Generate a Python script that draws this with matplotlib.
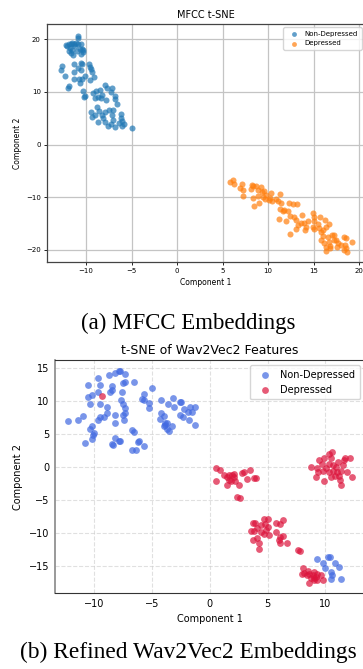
import numpy as np
import matplotlib
matplotlib.use('Agg')
from matplotlib import pyplot as plt

### MFCC t-SNE points ###
mfcc_nondep_x = [-10.9, -10.9, -12.1, -11.9, -11.7, -11.5, -11.3, -11.1, -10.9, -10.5, -11.8, -11.5,
                 -11.9, -11.6, -11.4, -11.0, -10.7, -10.4, -10.3, -10.5, -10.3, -11.2, -12.2,
                 -12.6, -12.7, -12.3, -11.9, -12.0, -11.3, -11.3, -11.3, -10.8, -10.7, -10.4, -10.9,
                 -10.5, -10.5, -10.4, -9.7, -9.6, -9.4, -9.3, -9.1, -9.6, -10.1, -10.3, -10.1, -10.2,
                 -9.2, -8.9, -8.5, -9.0, -8.7, -8.4, -8.2, -7.8, -7.9, -7.7, -7.2, -7.3, -6.8, -6.8,
                 -6.6, -8.8, -8.6, -9.0, -9.5, -9.3, -8.7, -8.2, -8.1, -7.9, -7.6, -7.3, -7.0, -7.1,
                 -7.9, -7.5, -7.0, -6.2, -6.2, -6.0, -5.8, -6.0, -6.8, -4.9, -6.4]
mfcc_nondep_y = [20.6, 20.2, 18.6, 19.0, 19.1, 19.2, 19.0, 19.2, 19.0, 19.1, 18.3, 18.0,
                 17.7, 17.3, 17.0, 17.8, 18.1, 18.2, 17.6, 17.2, 17.9, 18.6, 18.9,
                 14.8, 14.1, 13.0, 11.1, 10.7, 15.2, 13.8, 12.5, 12.4, 11.7, 12.5, 14.5,
                 14.2, 15.5, 15.3, 15.3, 14.7, 14.3, 13.7, 12.8, 12.3, 13.0, 10.2, 9.2, 9.0,
                 9.7, 10.2, 10.4, 8.8, 9.1, 8.8, 9.4, 8.5, 11.3, 10.7, 10.7, 9.9, 9.2, 8.6,
                 7.7, 7.2, 6.4, 5.6, 6.1, 5.2, 4.2, 5.6, 5.0, 4.2, 3.5, 3.9, 4.7, 5.6,
                 6.2, 6.6, 6.6, 5.8, 5.0, 4.4, 3.9, 3.5, 3.4, 3.2, 4.0]

mfcc_dep_x = [5.8, 6.2, 6.3, 7.1, 6.9, 7.2, 7.2, 8.2, 8.3, 8.7, 9.2, 8.9, 9.6, 8.1, 8.3, 8.5,
              9.0, 9.5, 9.7, 10.3, 10.1, 10.4, 10.9, 11.1, 11.3, 11.4, 11.3, 11.6, 12.2, 12.4,
              12.3, 12.8, 13.2, 12.0, 11.2, 12.4, 13.1, 13.3, 13.1, 13.6, 14.0, 14.2, 14.1, 14.9,
              15.0, 15.0, 14.9, 15.1, 15.7, 15.6, 15.8, 16.0, 16.3, 16.4, 16.7, 15.8, 16.1, 16.4,
              16.4, 16.8, 16.6, 17.0, 17.2, 17.2, 17.5, 17.7, 17.6, 18.0, 18.3, 18.6, 18.5, 18.6,
              18.3, 18.7, 19.2, 16.8, 16.7, 16.0, 15.5, 14.4, 13.7, 12.9, 11.8, 10.2, 9.8, 9.3, 8.9]
mfcc_dep_y = [-7.2, -6.7, -7.5, -7.5, -8.3, -8.6, -9.7, -7.7, -7.9, -7.9, -8.1, -8.6, -8.9, -8.5,
              -10.2, -11.6, -11.1, -9.9, -10.4, -9.2, -10.6, -10.8, -10.4, -10.8, -9.4, -11.1,
              -12.3, -12.7, -12.7, -13.5, -11.1, -11.3, -11.3, -14.5, -14.2, -17.0, -14.3, -15.3,
              -16.1, -14.8, -14.8, -15.6, -16.2, -12.9, -13.7, -14.5, -15.7, -16.1, -13.8, -15.9,
              -16.5, -16.2, -14.3, -15.6, -15.1, -18.1, -18.6, -19.4, -20.2, -19.2, -17.5, -17.2,
              -17.1, -18.1, -18.1, -18.7, -19.4, -19.0, -17.5, -17.8, -19.0, -19.7, -20.0, -20.3,
              -18.5, -19.6, -18.4, -17.3, -15.1, -14.6, -13.4, -13.8, -12.4, -10.2, -9.6, -9.1, -9.7]

### Wav2Vec2 t-SNE points ###
w2v_nondep_x = [-12.25, -11.4, -11.0, -10.8, -10.4, -10.2, -10.1, -10.2, -10.0, -10.5, -10.5, -10.4,
                -10.2, -9.65, -9.5, -9.7, -9.5, -9.65, -9.5, -9.2, -8.9, -8.9, -8.7, -8.5, -8.5,
                -8.6, -8.2, -7.9, -7.8, -7.3, -7.5, -7.3, -7.6, -7.7, -7.5, -7.3, -7.3, -7.5, -7.4,
                -8.2, -8.2, -8.2, -7.9, -7.8, -8.5, -8.4, -6.6, -6.7, -6.6, -6.7, -6.4, -6.2, -6.1,
                -5.7, -5.9, -5.7, -5.7, -5.3, -5.3, -5.0, -4.2, -4.3, -4.0, -4.2, -4.0, -3.9, -3.7,
                -3.9, -3.7, -3.5, -3.3, -3.6, -3.2, -3.1, -2.6, -2.6, -2.5, -2.2, -1.9, -2.3, -1.8,
                -1.3, -1.5, -1.3, -1.7,
                9.3, 9.8, 10.2, 10.4, 10.0, 10.8, 11.2, 10.5, 10.6, 10.5, 11.4]
w2v_nondep_y = [7.0, 7.1, 7.7, 3.6, 5.8, 6.2, 4.8, 4.3, 5.1, 12.4, 10.6, 9.5,
                10.9, 13.5, 12.4, 11.4, 9.5, 7.1, 7.6, 7.6, 8.1, 9.1, 14.0, 12.3, 11.6,
                11.3, 14.2, 14.6, 14.5, 14.1, 12.7, 12.9, 11.3, 10.2, 9.6, 8.9, 8.2, 7.9, 7.1,
                7.9, 6.7, 4.4, 4.0, 4.0, 3.4, 3.3, 12.8, 5.6, 5.3, 2.6, 2.6, 3.8, 4.0,
                3.1, 10.3, 11.1, 10.2, 9.7, 8.9, 11.9, 10.2, 7.2, 7.7, 8.2, 6.2, 6.3, 5.8,
                6.7, 6.6, 5.5, 6.2, 9.6, 10.4, 9.1, 9.9, 7.9, 9.9, 8.8, 8.3, 7.5, 7.1,
                9.1, 8.3, 6.4, 9.1,
                -14.0, -14.5, -13.6, -13.6, -15.3, -14.6, -15.2, -15.9, -16.3, -17.0, -17.0]

w2v_dep_x = [-9.3,
             0.5, 0.9, 0.5, 1.5, 1.2, 1.7, 1.9, 2.1, 1.7, 1.8, 1.5, 2.5, 2.8, 3.0, 3.5, 3.2,
             3.8, 4.0, 2.1, 2.2, 2.4, 2.6,
             8.8, 9.3, 9.5, 9.4, 9.2, 9.7, 9.8, 9.9, 10.1, 10.3, 10.3, 10.6, 10.5, 10.7, 10.9,
             11.0, 10.8, 11.2, 11.4, 11.5, 11.6, 11.7, 12.1, 11.3, 11.4, 9.9, 10.5, 10.7, 11.9,
             12.3, 11.1, 10.3,
             3.7, 3.9, 4.7, 5.0, 4.8, 4.4, 5.0, 3.6, 3.8, 4.1, 4.4, 4.7, 5.1, 4.9, 3.7, 4.1,
             4.3, 4.3, 5.7, 6.1, 6.3, 5.7, 6.1, 6.3, 6.0, 6.1, 6.7, 7.6, 7.8,
             8.1, 8.2, 8.5, 8.4, 8.6, 8.9, 9.0, 9.0, 8.8, 9.2, 9.3, 9.6, 9.8, 8.6, 9.0, 8.0, 9.3]
w2v_dep_y = [10.7,
             -0.2, -0.5, -2.1, -1.5, -1.2, -1.2, -1.2, -1.5, -2.0, -2.1, -2.7, -2.7, -0.9, -0.7,
             -0.5, -1.8, -1.7, -1.7, -1.0, -2.1, -4.5, -4.7,
             0.0, -0.1, 1.0, -0.8, -1.5, 0.5, -0.6, 1.3, -0.1, 0.5, 1.9, 2.3, 1.3, 0.3, 0.0,
             -0.7, -1.4, -1.4, -0.6, 0.3, 1.1, 1.4, 1.4, -2.0, -2.7, -2.2, -1.5, -0.6, -0.8,
             -1.5, 0.8, -0.7,
             -8.5, -8.5, -7.9, -7.9, -8.6, -8.8, -9.1, -9.7, -9.7, -9.3, -9.8, -10.1, -10.3,
             -9.6, -11.0, -10.8, -11.5, -12.4, -8.5, -8.6, -8.0, -9.8, -10.6, -10.5, -11.0,
             -11.5, -11.5, -12.6, -12.7,
             -15.3, -16.1, -15.7, -16.4, -16.2, -16.4, -15.9, -16.8, -16.9, -16.7, -16.2, -16.3,
             -17.2, -17.6, -17.2, -16.2, -17.1]

fig = plt.figure(figsize=(3.63, 6.69), dpi=100)

### (a) MFCC ###
ax1 = fig.add_axes([47/363, 1 - 262/669, (365 - 47)/363, 238/669])
ax1.scatter(mfcc_nondep_x, mfcc_nondep_y, s=19, alpha=0.7, color='tab:blue',
            label='Non-Depressed', linewidths=0)
ax1.scatter(mfcc_dep_x, mfcc_dep_y, s=19, alpha=0.7, color='tab:orange',
            label='Depressed', linewidths=0)
ax1.set_xlim(-14.29, 20.66)
ax1.set_ylim(-22.28, 22.85)
ax1.set_xticks([-10, -5, 0, 5, 10, 15, 20])
ax1.set_yticks([-20, -10, 0, 10, 20])
ax1.grid(True, color='#c4c4c4', linewidth=0.9)
ax1.set_axisbelow(True)
ax1.tick_params(labelsize=5, length=2.5, width=0.6, pad=2)
ax1.set_title('MFCC t-SNE', fontsize=7, pad=4)
ax1.set_xlabel('Component 1', fontsize=5.5, labelpad=3)
ax1.set_ylabel('Component 2', fontsize=5.5, labelpad=3)
for sp in ax1.spines.values():
    sp.set_color('#444444')
    sp.set_linewidth(0.9)
ax1.legend(loc='upper right', fontsize=5, markerscale=0.8, handletextpad=0.6,
           borderpad=0.5, framealpha=0.8)

### (b) Wav2Vec2 ###
ax2 = fig.add_axes([55/363, 1 - 593/669, (365 - 55)/363, 233/669])
ax2.scatter(w2v_nondep_x, w2v_nondep_y, s=24, alpha=0.7, color='royalblue',
            label='Non-Depressed', linewidths=0)
ax2.scatter(w2v_dep_x, w2v_dep_y, s=24, alpha=0.7, color='crimson',
            label='Depressed', linewidths=0)
ax2.set_xlim(-13.4, 13.44)
ax2.set_ylim(-19.1, 16.2)
ax2.set_xticks([-10, -5, 0, 5, 10])
ax2.set_yticks([-15, -10, -5, 0, 5, 10, 15])
ax2.grid(True, linestyle='--', color='#cccccc', alpha=0.6, linewidth=0.8)
ax2.set_axisbelow(True)
ax2.tick_params(labelsize=7, length=0, pad=4)
ax2.set_title('t-SNE of Wav2Vec2 Features', fontsize=9, pad=4)
ax2.set_xlabel('Component 1', fontsize=7, labelpad=4)
ax2.set_ylabel('Component 2', fontsize=7, labelpad=4)
for sp in ax2.spines.values():
    sp.set_color('#333333')
    sp.set_linewidth(0.8)
ax2.spines['left'].set_color('#888888')
ax2.spines['left'].set_linewidth(1.2)
ax2.legend(loc='upper right', fontsize=7, handletextpad=0.6, borderpad=0.5)

### captions ###
fig.text(188.5/363, 1 - 323/669, '(a) MFCC Embeddings', fontsize=16.5,
         family='Liberation Serif', ha='center', va='center')
fig.text(188.5/363, 1 - 652/669, '(b) Refined Wav2Vec2 Embeddings', fontsize=16.8,
         family='Liberation Serif', ha='center', va='center')

fig.savefig('out.png', dpi=100)
